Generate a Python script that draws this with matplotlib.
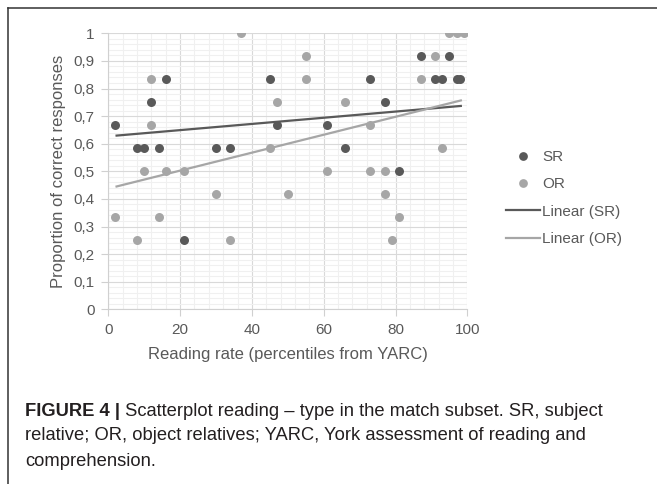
import numpy as np
import matplotlib
matplotlib.use("Agg")
import matplotlib.pyplot as plt
from matplotlib import font_manager
from matplotlib.lines import Line2D
from matplotlib.ticker import MultipleLocator, FuncFormatter

# ---- data ----
sr_x = [2, 8, 10, 12, 14, 16, 21, 30, 34, 45, 47, 61, 66, 73, 77, 81, 87, 91, 93, 95, 97, 98]
sr_y = [0.667, 0.583, 0.583, 0.75, 0.583, 0.833, 0.25, 0.583, 0.583, 0.833, 0.667, 0.667,
        0.583, 0.833, 0.75, 0.5, 0.917, 0.833, 0.833, 0.917, 0.833, 0.833]
or_x = [2, 8, 10, 12, 12, 14, 16, 21, 30, 34, 37, 45, 47, 50, 55, 55, 61, 66, 73, 73, 77, 77,
        79, 81, 87, 91, 93, 95, 97, 99]
or_y = [0.333, 0.25, 0.5, 0.833, 0.667, 0.333, 0.5, 0.5, 0.417, 0.25, 1.0, 0.583, 0.75, 0.417,
        0.917, 0.833, 0.5, 0.75, 0.667, 0.5, 0.5, 0.417, 0.25, 0.333, 0.833, 0.917, 0.583,
        1.0, 1.0, 1.0]
# linear trendlines: (slope, intercept, x range)
sr_trend = [0.00112, 0.6268]
or_trend = [0.00325, 0.4375]
sr_trend_x = [2, 98.5]
or_trend_x = [2, 98.5]
series_labels = ["SR", "OR", "Linear (SR)", "Linear (OR)"]
x_ticks = [0, 20, 40, 60, 80, 100]
y_ticks = [0, 0.1, 0.2, 0.3, 0.4, 0.5, 0.6, 0.7, 0.8, 0.9, 1.0]
x_label = "Reading rate (percentiles from YARC)"
y_label = "Proportion of correct responses"
caption_bold = "FIGURE 4 |"
caption_lines = [" Scatterplot reading \u2013 type in the match subset. SR, subject",
                 "relative; OR, object relatives; YARC, York assessment of reading and",
                 "comprehension."]

DARK = "#595959"
LIGHT = "#a6a6a6"
TXT = "#595959"

names = {f.name for f in font_manager.fontManager.ttflist}
base_font = "Liberation Sans" if "Liberation Sans" in names else "DejaVu Sans"
plt.rcParams["font.family"] = [base_font, "DejaVu Sans"]

fig = plt.figure(figsize=(6.57, 4.84), dpi=100)
W, H = 657, 484
ax = fig.add_axes([108.3 / W, 1 - 309.3 / H, (467.3 - 108.3) / W, (309.3 - 33.3) / H])

ax.set_xlim(0, 100)
ax.set_ylim(0, 1)
ax.xaxis.set_minor_locator(MultipleLocator(4))
ax.yaxis.set_minor_locator(MultipleLocator(0.02))
ax.set_xticks(x_ticks)
ax.set_yticks(y_ticks)
ax.yaxis.set_major_formatter(FuncFormatter(lambda v, p: ("%g" % round(v, 2)).replace(".", ",")))
ax.grid(which="minor", color="#f0f0f0", lw=0.8, zorder=0)
ax.grid(which="major", color="#d9d9d9", lw=0.8, zorder=0)
ax.set_axisbelow(True)
for s in ["top", "right"]:
    ax.spines[s].set_visible(False)
for s in ["left", "bottom"]:
    ax.spines[s].set_color("#d0d0d0")
    ax.spines[s].set_linewidth(0.8)
ax.tick_params(which="major", length=5, color="#d0d0d0", labelcolor=TXT, labelsize=11, pad=5)
ax.tick_params(which="minor", length=0)

ax.scatter(sr_x, sr_y, s=42, color=DARK, zorder=3, linewidths=0)
ax.scatter(or_x, or_y, s=42, color=LIGHT, zorder=3, linewidths=0)

for (k, b), xr, c in [(sr_trend, sr_trend_x, DARK), (or_trend, or_trend_x, LIGHT)]:
    xx = np.array(xr)
    ax.plot(xx, k * xx + b, color=c, lw=1.6, zorder=4, solid_capstyle="butt")

ax.set_xlabel(x_label, color=TXT, fontsize=12, labelpad=7)
ax.set_ylabel(y_label, color=TXT, fontsize=12, labelpad=5.5)

handles = [Line2D([], [], ls="", marker="o", ms=6.3, color=DARK, mew=0),
           Line2D([], [], ls="", marker="o", ms=6.3, color=LIGHT, mew=0),
           Line2D([], [], color=DARK, lw=1.6),
           Line2D([], [], color=LIGHT, lw=1.6)]
leg = fig.legend(handles, series_labels, loc="upper left", bbox_to_anchor=(506 / W, 1 - 150 / H),
                 frameon=False, fontsize=11, handlelength=2.2, handletextpad=0.15,
                 labelspacing=0.87, borderaxespad=0, borderpad=0)
for t in leg.get_texts():
    t.set_color(TXT)

# frame
fig.add_artist(Line2D([8 / W, 8 / W], [0, 1 - 8 / H], color="#333333", lw=1.1))
fig.add_artist(Line2D([8 / W, 1], [1 - 8 / H, 1 - 8 / H], color="#333333", lw=1.1))

# caption
CS = 13.2
y0 = 1 - 411 / H
tb = fig.text(25 / W, y0, caption_bold, fontsize=CS, fontweight="bold",
              color="#231f20", va="center")
fig.canvas.draw()
bb = tb.get_window_extent()
fig.text(bb.x1 / W, y0, caption_lines[0], fontsize=CS, color="#231f20", va="center")
for i, line in enumerate(caption_lines[1:]):
    fig.text(25 / W, 1 - (436 + 25 * i) / H, line, fontsize=CS, color="#231f20", va="center")

fig.savefig("out.png", dpi=100)
